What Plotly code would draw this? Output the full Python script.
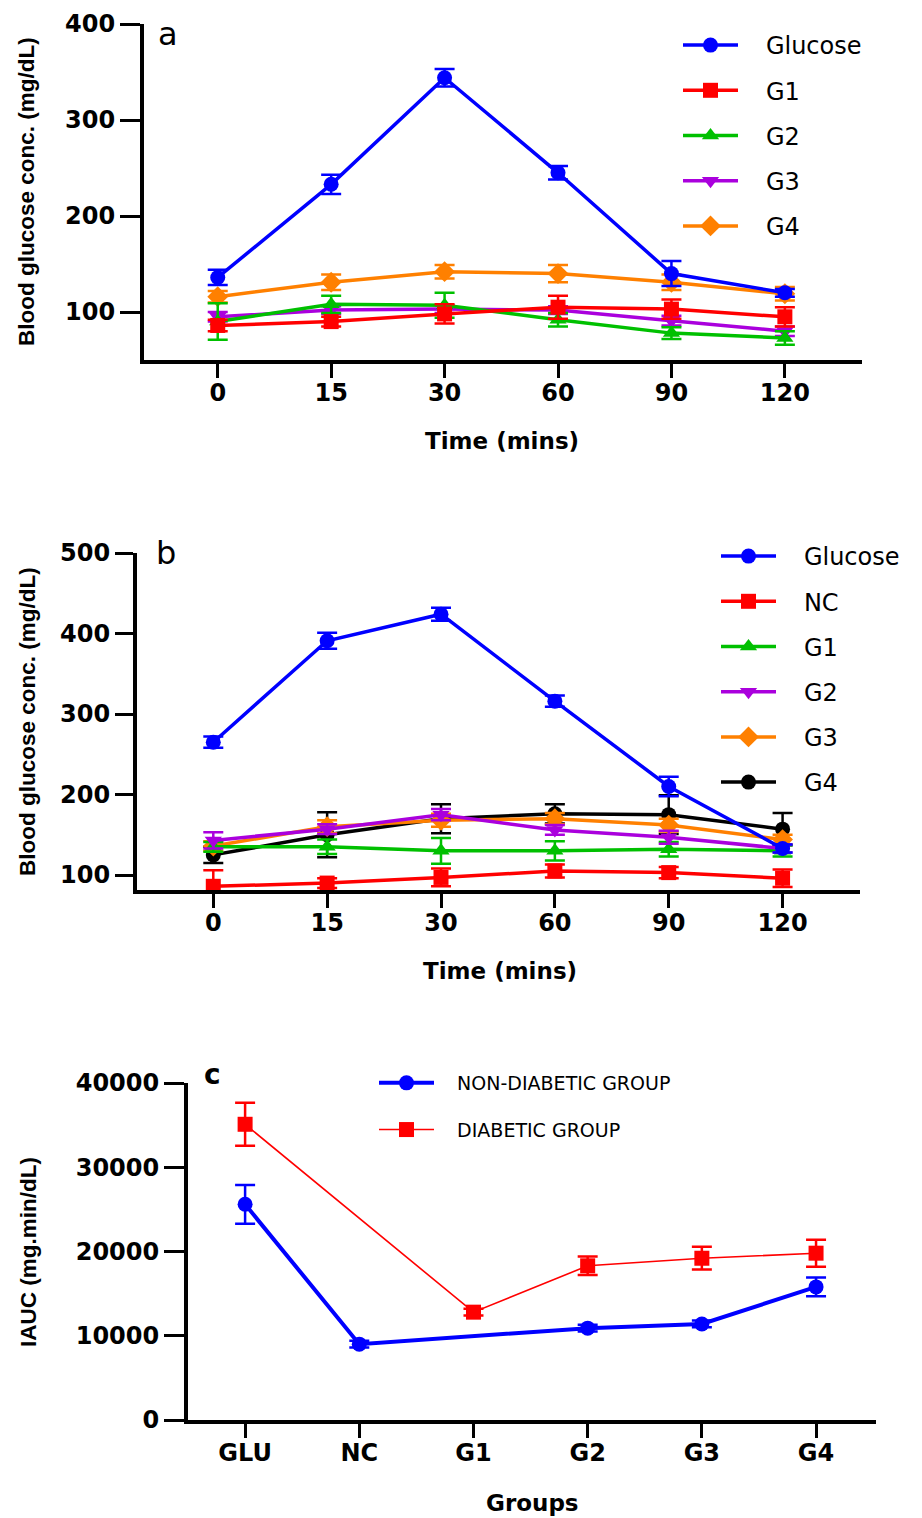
import plotly.graph_objects as go

# ---------------- data ----------------
times = ["0", "15", "30", "60", "90", "120"]

# panel a
a_names = ["Glucose", "G1", "G2", "G3", "G4"]
a_glucose = [136, 233, 344, 245, 140, 120]
a_glucose_err = [8, 10, 9, 7, 13, 4]
a_g1 = [86, 90, 98, 105, 103, 95]
a_g1_err = [6, 5, 10, 12, 10, 10]
a_g2 = [90, 108, 107, 92, 78, 73]
a_g2_err = [19, 9, 13, 7, 6, 7]
a_g3 = [95, 102, 103, 102, 91, 80]
a_g3_err = [5, 4, 4, 4, 5, 5]
a_g4 = [116, 131, 142, 140, 131, 119]
a_g4_err = [6, 8, 7, 9, 8, 7]

# panel b
b_names = ["Glucose", "NC", "G1", "G2", "G3", "G4"]
b_glucose = [265, 391, 424, 316, 210, 133]
b_glucose_err = [7, 10, 8, 7, 12, 5]
b_nc = [86, 90, 97, 105, 103, 96]
b_nc_err = [20, 6, 11, 8, 7, 11]
b_g1 = [135, 135, 130, 130, 132, 130]
b_g1_err = [6, 9, 16, 12, 9, 7]
b_g2 = [143, 157, 175, 156, 147, 133]
b_g2_err = [10, 6, 7, 6, 8, 5]
b_g3 = [136, 160, 168, 170, 162, 144]
b_g3_err = [6, 8, 8, 7, 8, 6]
b_g4 = [125, 150, 170, 176, 175, 157]
b_g4_err = [10, 28, 18, 12, 24, 20]

# panel c
groups = ["GLU", "NC", "G1", "G2", "G3", "G4"]
c_names = ["NON-DIABETIC GROUP", "DIABETIC GROUP"]
c_nondiab = [25600, 9000, None, 10900, 11400, 15800]
c_nondiab_err = [2300, 400, None, 400, 400, 1100]
c_diab = [35100, None, 12800, 18300, 19200, 19800]
c_diab_err = [2550, None, 400, 1100, 1350, 1600]

# ---------------- styles ----------------
BLUE = "#0000FF"
RED = "#FF0000"
GREEN = "#00C000"
PURPLE = "#AA00DD"
ORANGE = "#FF8000"
BLACK = "#000000"

TICKFONT = dict(family="DejaVu Sans", size=24, color="black", weight="bold")
TITLEFONT = dict(family="Liberation Sans", size=22.5, color="black", weight="bold")
XTITLEFONT = dict(family="DejaVu Sans", size=23, color="black", weight="bold")
W, H = 922, 1518
PAD = "\u00a0\u00a0\u00a0"   # gap between legend symbol and label

fig = go.Figure()


def add(x, y, err, name, color, symbol, xa, ya, legend, rank, lw=3.5, size=15):
    fig.add_trace(go.Scatter(
        x=x, y=y, name=PAD + name, mode="lines+markers",
        line=dict(color=color, width=lw),
        marker=dict(color=color, symbol=symbol, size=size),
        error_y=dict(type="data", array=err, visible=True, color=color,
                     thickness=2.5, width=10),
        xaxis=xa, yaxis=ya, legend=legend, legendgroup=legend + name,
        legendrank=rank, connectgaps=True, cliponaxis=False,
    ))


# panel a (drawn bottom -> top)
add(times, a_g4, a_g4_err, a_names[4], ORANGE, "diamond", "x", "y", "legend", 5, size=16)
add(times, a_g3, a_g3_err, a_names[3], PURPLE, "triangle-down", "x", "y", "legend", 4)
add(times, a_g2, a_g2_err, a_names[2], GREEN, "triangle-up", "x", "y", "legend", 3)
add(times, a_g1, a_g1_err, a_names[1], RED, "square", "x", "y", "legend", 2)
add(times, a_glucose, a_glucose_err, a_names[0], BLUE, "circle", "x", "y", "legend", 1)

# panel b
add(times, b_g4, b_g4_err, b_names[5], BLACK, "circle", "x2", "y2", "legend2", 6)
add(times, b_g3, b_g3_err, b_names[4], ORANGE, "diamond", "x2", "y2", "legend2", 5, size=16)
add(times, b_g1, b_g1_err, b_names[2], GREEN, "triangle-up", "x2", "y2", "legend2", 3)
add(times, b_g2, b_g2_err, b_names[3], PURPLE, "triangle-down", "x2", "y2", "legend2", 4)
add(times, b_nc, b_nc_err, b_names[1], RED, "square", "x2", "y2", "legend2", 2)
add(times, b_glucose, b_glucose_err, b_names[0], BLUE, "circle", "x2", "y2", "legend2", 1)

# panel c
add(groups, c_diab, c_diab_err, c_names[1], RED, "square", "x3", "y3", "legend3", 2, lw=1.6)
add(groups, c_nondiab, c_nondiab_err, c_names[0], BLUE, "circle", "x3", "y3", "legend3", 1, lw=4)


def px_x(p):
    return p / W


def px_y(p):
    return 1 - p / H


axis_common = dict(showline=True, linewidth=4, linecolor="black", ticks="outside",
                   tickwidth=3, tickcolor="black", showgrid=False, zeroline=False,
                   tickfont=TICKFONT, automargin=False)
xaxis_common = dict(axis_common, type="category", categoryorder="array", ticklen=14,
                    ticklabelstandoff=-6)

fig.update_layout(
    width=W, height=H, autosize=False,
    margin=dict(l=0, r=0, t=0, b=0, pad=0, autoexpand=False),
    paper_bgcolor="white", plot_bgcolor="white",
    xaxis=dict(xaxis_common, domain=[px_x(144), px_x(862)], anchor="y",
               categoryarray=times, range=[-0.65, 5.68]),
    yaxis=dict(axis_common, domain=[px_y(360), px_y(24)], anchor="x", range=[50, 400],
               tickvals=[100, 200, 300, 400], ticklen=20),
    xaxis2=dict(xaxis_common, domain=[px_x(137), px_x(860)], anchor="y2",
                categoryarray=times, range=[-0.67, 5.68]),
    yaxis2=dict(axis_common, domain=[px_y(890), px_y(553)], anchor="x2", range=[81.4, 500],
                tickvals=[100, 200, 300, 400, 500], ticklen=18),
    xaxis3=dict(xaxis_common, domain=[px_x(188), px_x(876)], anchor="y3",
                categoryarray=groups, range=[-0.5, 5.525]),
    yaxis3=dict(axis_common, domain=[px_y(1420), px_y(1083)], anchor="x3", range=[0, 40000],
                tickvals=[0, 10000, 20000, 30000, 40000], tickformat="d", ticklen=20),
    legend=dict(x=px_x(678), y=px_y(23), xanchor="left", yanchor="top",
                font=dict(family="DejaVu Sans", size=24, color="black"),
                bgcolor="rgba(0,0,0,0)", tracegroupgap=11, itemwidth=55),
    legend2=dict(x=px_x(716), y=px_y(534), xanchor="left", yanchor="top",
                 font=dict(family="DejaVu Sans", size=24, color="black"),
                 bgcolor="rgba(0,0,0,0)", tracegroupgap=11, itemwidth=55),
    legend3=dict(x=px_x(374), y=px_y(1064), xanchor="left", yanchor="top",
                 font=dict(family="DejaVu Sans", size=19, color="black"),
                 bgcolor="rgba(0,0,0,0)", tracegroupgap=19, itemwidth=55),
)

ann = [
    dict(text="Blood glucose conc. (mg/dL)", x=px_x(27), y=px_y(192), textangle=-90, font=TITLEFONT),
    dict(text="Blood glucose conc. (mg/dL)", x=px_x(27), y=px_y(722), textangle=-90, font=TITLEFONT),
    dict(text="IAUC (mg.min/dL)", x=px_x(28), y=px_y(1252), textangle=-90, font=TITLEFONT),
    dict(text="Time (mins)", x=px_x(502), y=px_y(441), font=XTITLEFONT),
    dict(text="Time (mins)", x=px_x(500), y=px_y(971), font=XTITLEFONT),
    dict(text="Groups", x=px_x(532), y=px_y(1503), font=XTITLEFONT),
    dict(text="a", x=px_x(168), y=px_y(34), font=dict(family="DejaVu Sans", size=32, color="black")),
    dict(text="b", x=px_x(166), y=px_y(553), font=dict(family="DejaVu Sans", size=32, color="black")),
    dict(text="c", x=px_x(212), y=px_y(1074), font=dict(family="DejaVu Sans", size=28, color="black", weight="bold")),
]
for a in ann:
    fig.add_annotation(xref="paper", yref="paper", showarrow=False,
                       xanchor="center", yanchor="middle", **a)

fig.write_html("out.html", config={"displayModeBar": False},
               post_script="document.body.style.margin='0px';")
